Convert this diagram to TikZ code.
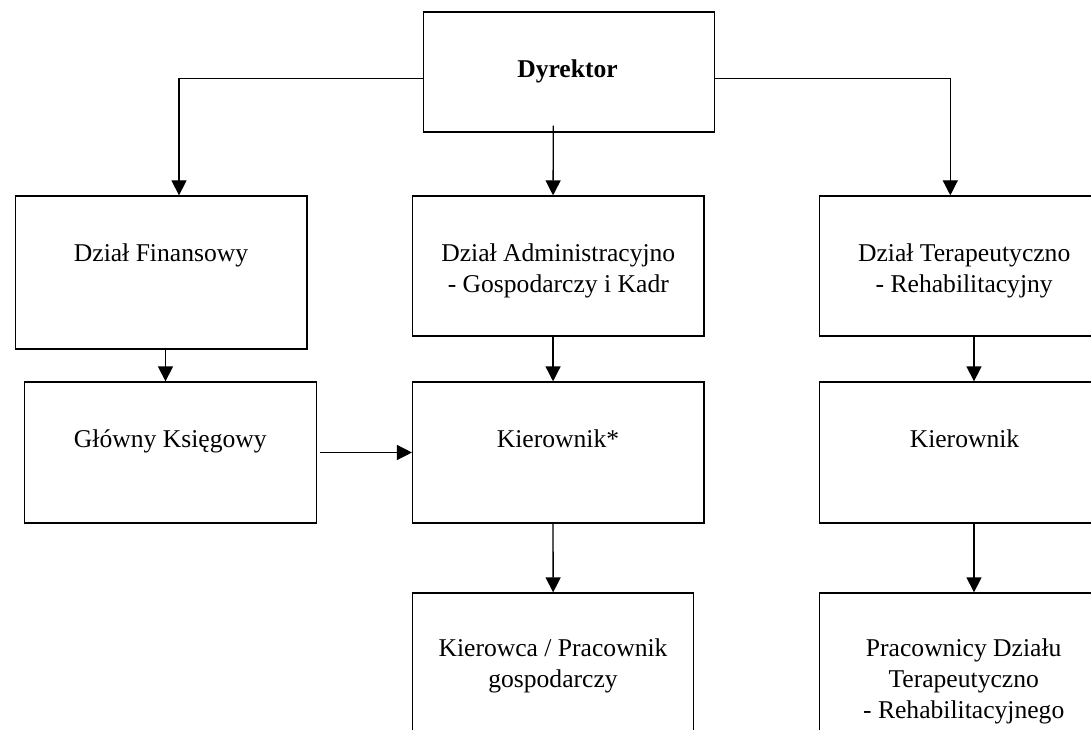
\documentclass[tikz,border=0pt]{standalone}
\usepackage{fontspec}
\setmainfont{Liberation Serif}
\usetikzlibrary{arrows.meta,positioning}
\tikzset{
	box/.style={
		rectangle,
		draw=black,
		line width=1.3pt,
		minimum width=291.5pt,
		minimum height=141pt,
		inner sep=0pt
	},
	boxtext/.style={
		anchor=north,
		align=center,
		inner sep=0pt,
		font=\fontsize{25.6}{31}\selectfont
	},
	arrow/.style={
		draw=black,
		line width=1.3pt,
		-{Triangle[length=15pt,width=15pt]}
	},
}

\begin{document}
\begin{tikzpicture}[x=1pt,y=-1pt]
	\clip (0,0) rectangle (1091,730);
	% boxes
	\node [box,minimum width=291pt,minimum height=120pt] (dyr) at (568.8,72) {};
	\node [box,minimum width=291.6pt,minimum height=153pt] (fin) at (161.1,272.5) {};
	\node [box,minimum height=140pt] (adm) at (558.35,266) {};
	\node [box,minimum width=289.6pt,minimum height=140pt] (ter) at (964.2,266) {};
	\node [box] (glo) at (170.5,452.5) {};
	\node [box] (kie1) at (558.35,452.5) {};
	\node [box,minimum width=289.6pt] (kie2) at (964.2,452.5) {};
	\node [box,minimum width=281.1pt,minimum height=170pt] (kwc) at (553.15,678) {};
	\node [box,minimum width=289.6pt,minimum height=170pt] (prc) at (964.2,678) {};

	% texts
	\node [boxtext,font=\fontsize{25.6}{31}\selectfont\bfseries] (dyr-t) at (567.5,59.5) {Dyrektor};
	\node [boxtext] (fin-t) at (161,243.7) {Dział Finansowy};
	\node [boxtext] (adm-t) at (558.3,243.7) {Dział Administracyjno\\ - Gospodarczy i Kadr};
	\node [boxtext] (ter-t) at (964.2,243.7) {Dział Terapeutyczno\\ - Rehabilitacyjny};
	\node [boxtext] (glo-t) at (170.3,429.7) {Główny Księgowy};
	\node [boxtext] (kie1-t) at (558,429.7) {Kierownik*};
	\node [boxtext] (kie2-t) at (964.5,429.7) {Kierownik};
	\node [boxtext] (kwc-t) at (553,638.7) {Kierowca / Pracownik\\ gospodarczy};
	\node [boxtext] (prc-t) at (963.7,638.7) {Pracownicy Działu\\ Terapeutyczno\\ - Rehabilitacyjnego};

	% connectors
	\draw [arrow] ([yshift=-6.7pt]dyr.west) -| ([xshift=17.9pt]fin.north);
	\draw [arrow] ([xshift=-15.5pt,yshift=7pt]dyr.south) -- ([xshift=-5.3pt]adm.north);
	\draw [arrow] ([yshift=-6.7pt]dyr.east) -| ([xshift=-13.9pt]ter.north);
	\draw [arrow] ([xshift=4.4pt]fin.south) -- ([xshift=-5pt]glo.north);
	\draw [arrow] ([xshift=-5.3pt]adm.south) -- ([xshift=-5.3pt]kie1.north);
	\draw [arrow] ([xshift=9.8pt]ter.south) -- ([xshift=9.8pt]kie2.north);
	\draw [arrow] ([xshift=2.7pt]glo.east) -- (kie1.west);
	\draw [arrow] ([xshift=-5.3pt]kie1.south) -- (kwc.north);
	\draw [arrow] ([xshift=9.8pt]kie2.south) -- ([xshift=9.8pt]prc.north);
\end{tikzpicture}
\end{document}
